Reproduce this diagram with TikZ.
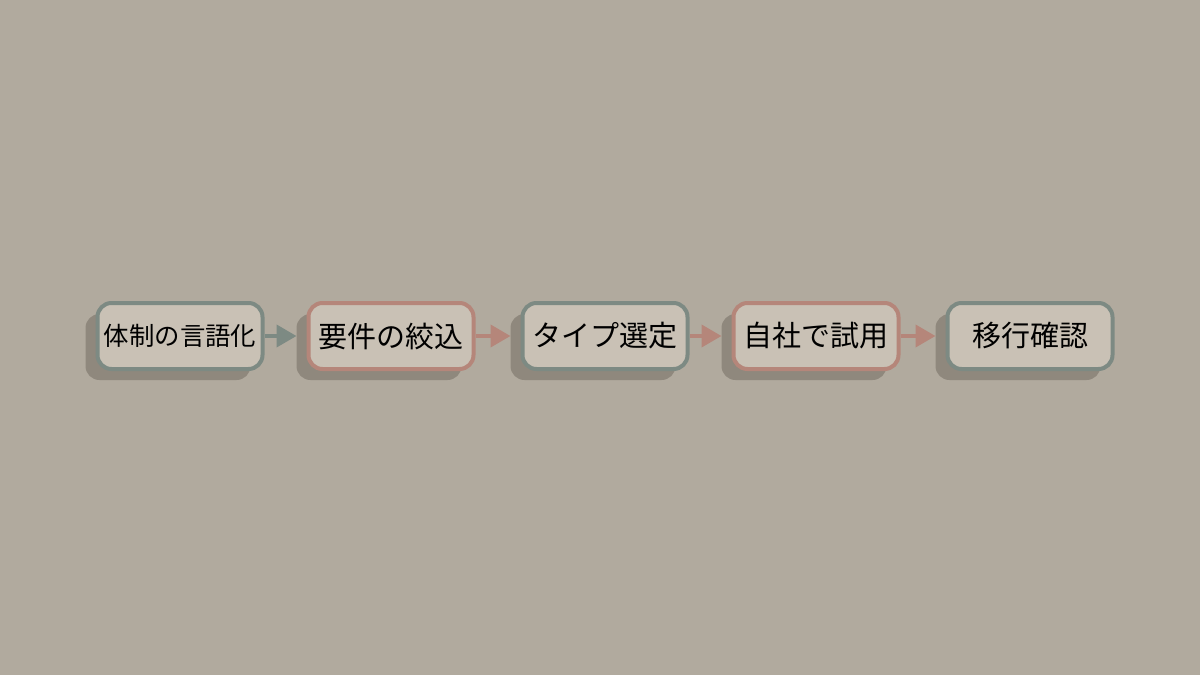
\documentclass[tikz,border=0pt]{standalone}
\usepackage{fontspec}
\newfontfamily\cjk{Noto Sans CJK JP}
\usetikzlibrary{arrows.meta}
\usetikzlibrary{positioning}
\usetikzlibrary{shadows}
\definecolor{bgcol}{HTML}{B1AA9E}
\definecolor{boxfill}{HTML}{C9C1B5}
\definecolor{shadowcol}{HTML}{8F887D}
\definecolor{tealcol}{HTML}{7D8A83}
\definecolor{salmoncol}{HTML}{B5867A}
\tikzset{stepbox/.style = {draw, line width=2pt, fill=boxfill, rounded corners=7pt,
                           minimum width=82.5pt, minimum height=33pt, inner sep=0pt,
                           font=\cjk\fontsize{14.5pt}{16pt}\selectfont,
                           drop shadow={shadow xshift=-6pt, shadow yshift=-5.5pt,
                                        fill=shadowcol, opacity=1}}}
\tikzset{flow/.style = {line width=2pt, -{Triangle[length=10pt, width=11pt]},
                        shorten >=5pt}}
\begin{document}
\begin{tikzpicture}[x=0.5pt, y=-0.5pt]
			\fill [bgcol] (0, 0) rectangle (1200, 675);
			\useasboundingbox (0, 0) rectangle (1200, 675);
			\node [stepbox, draw=tealcol, font=\cjk\fontsize{12.7pt}{14pt}\selectfont] (0) at (180, 336) {体制の言語化};
			\node [stepbox, draw=salmoncol] (1) at (391, 336) {要件の絞込};
			\node [stepbox, draw=tealcol] (2) at (605, 336) {タイプ選定};
			\node [stepbox, draw=salmoncol] (3) at (816, 336) {自社で試用};
			\node [stepbox, draw=tealcol] (4) at (1030, 336) {移行確認};
			\draw [flow, tealcol] (0) to (1);
			\draw [flow, salmoncol] (1) to (2);
			\draw [flow, salmoncol] (2) to (3);
			\draw [flow, salmoncol] (3) to (4);
		\end{tikzpicture}
\end{document}
